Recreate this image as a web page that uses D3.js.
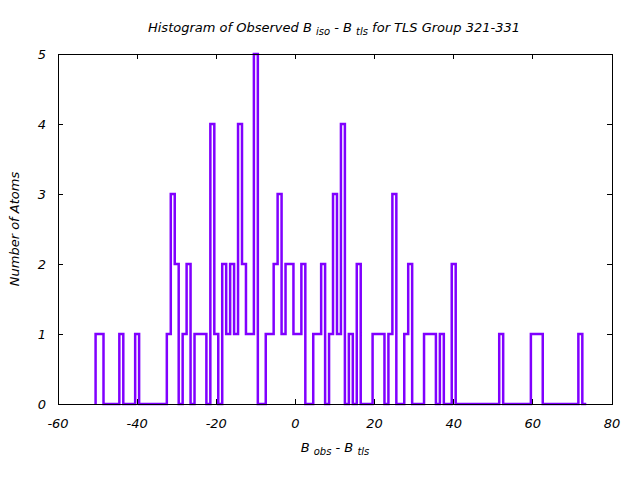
<!DOCTYPE html>
<html>
<head>
<meta charset="utf-8">
<script src="https://cdn.jsdelivr.net/npm/d3@7"></script>
<style>
  body { margin: 0; background: #fff; }
  text { font-family: "DejaVu Sans", sans-serif; font-style: italic; fill: #000; }
</style>
</head>
<body>
<svg id="chart" width="640" height="480"></svg>
<script>
// Bin centres (width 1) and counts
const binCenters = [-50,-49,-48,-47,-46,-45,-44,-43,-42,-41,-40,-39,-38,-37,-36,-35,-34,-33,-32,-31,
  -30,-29,-28,-27,-26,-25,-24,-23,-22,-21,-20,-19,-18,-17,-16,-15,-14,-13,-12,-11,
  -10,-9,-8,-7,-6,-5,-4,-3,-2,-1,0,1,2,3,4,5,6,7,8,9,
  10,11,12,13,14,15,16,17,18,19,20,21,22,23,24,25,26,27,28,29,
  30,31,32,33,34,35,36,37,38,39,40,41,42,43,44,45,46,47,48,49,
  50,51,52,53,54,55,56,57,58,59,60,61,62,63,64,65,66,67,68,69,
  70,71,72,73];
const counts = [1,1,0,0,0,0,1,0,0,0,1,0,0,0,0,0,0,0,1,3,
  2,0,1,2,0,1,1,1,0,4,1,0,2,1,2,1,4,2,1,1,
  5,0,0,1,1,2,3,1,2,2,1,1,2,0,0,1,1,2,0,1,
  3,1,4,0,1,0,2,0,0,0,1,1,1,0,1,3,0,0,1,2,
  0,0,0,1,1,1,0,1,0,0,2,0,0,0,0,0,0,0,0,0,
  0,0,1,0,0,0,0,0,0,0,1,1,1,0,0,0,0,0,0,0,
  0,0,1,0];
const binWidth = 1;
const xTicks = [-60,-40,-20,0,20,40,60,80];
const yTicks = [0,1,2,3,4,5];

const svg = d3.select("#chart");
const m = {left: 58, right: 612, top: 54, bottom: 404};
const x = d3.scaleLinear().domain([-60, 80]).range([m.left, m.right]);
const y = d3.scaleLinear().domain([0, 5]).range([m.bottom, m.top]);

// step outline
const pts = [{x: binCenters[0] - binWidth/2, y: 0}];
binCenters.forEach((c, i) => pts.push({x: c - binWidth/2, y: counts[i]}));
pts.push({x: binCenters[binCenters.length-1] + binWidth/2, y: counts[counts.length-1]});
const line = d3.line().x(d => x(d.x)).y(d => y(d.y)).curve(d3.curveStepAfter);
svg.append("path").attr("d", line(pts))
  .attr("fill", "none").attr("stroke", "#8000ff").attr("stroke-width", 2.5)
  .attr("stroke-linejoin", "miter");

// ticks (inward, mirrored)
const g = svg.append("g").attr("stroke", "#000").attr("stroke-width", 1).attr("shape-rendering", "crispEdges");
xTicks.forEach(t => {
  g.append("line").attr("x1", x(t)).attr("x2", x(t)).attr("y1", m.bottom).attr("y2", m.bottom - 5);
  g.append("line").attr("x1", x(t)).attr("x2", x(t)).attr("y1", m.top).attr("y2", m.top + 5);
});
yTicks.forEach(t => {
  g.append("line").attr("x1", m.left).attr("x2", m.left + 5).attr("y1", y(t)).attr("y2", y(t));
  g.append("line").attr("x1", m.right).attr("x2", m.right - 5).attr("y1", y(t)).attr("y2", y(t));
});
g.append("rect").attr("x", m.left).attr("y", m.top)
  .attr("width", m.right - m.left).attr("height", m.bottom - m.top).attr("fill", "none");

// tick labels
const fs = 13, sfs = 10;
svg.append("g").selectAll("text").data(xTicks).join("text")
  .attr("x", d => x(d)).attr("y", 428).attr("text-anchor", "middle")
  .attr("font-size", fs).text(d => d);
svg.append("g").selectAll("text").data(yTicks).join("text")
  .attr("x", 46).attr("y", d => y(d) + 5).attr("text-anchor", "end")
  .attr("font-size", fs).text(d => d);

// title
const title = svg.append("text").attr("x", 334).attr("y", 32).attr("text-anchor", "middle").attr("font-size", fs);
title.append("tspan").text("Histogram of Observed B ");
title.append("tspan").attr("font-size", sfs).attr("dy", 3).text("iso");
title.append("tspan").attr("dy", -3).text("  -  B ");
title.append("tspan").attr("font-size", sfs).attr("dy", 3).text("tls");
title.append("tspan").attr("dy", -3).text("  for TLS Group 321-331");

// x label
const xl = svg.append("text").attr("x", 335).attr("y", 452).attr("text-anchor", "middle").attr("font-size", fs);
xl.append("tspan").text("B ");
xl.append("tspan").attr("font-size", sfs).attr("dy", 3).text("obs");
xl.append("tspan").attr("dy", -3).text("  -  B ");
xl.append("tspan").attr("font-size", sfs).attr("dy", 3).text("tls");

// y label
svg.append("text").attr("transform", "translate(19,229) rotate(-90)")
  .attr("text-anchor", "middle").attr("font-size", fs).text("Number of Atoms");
</script>
</body>
</html>
